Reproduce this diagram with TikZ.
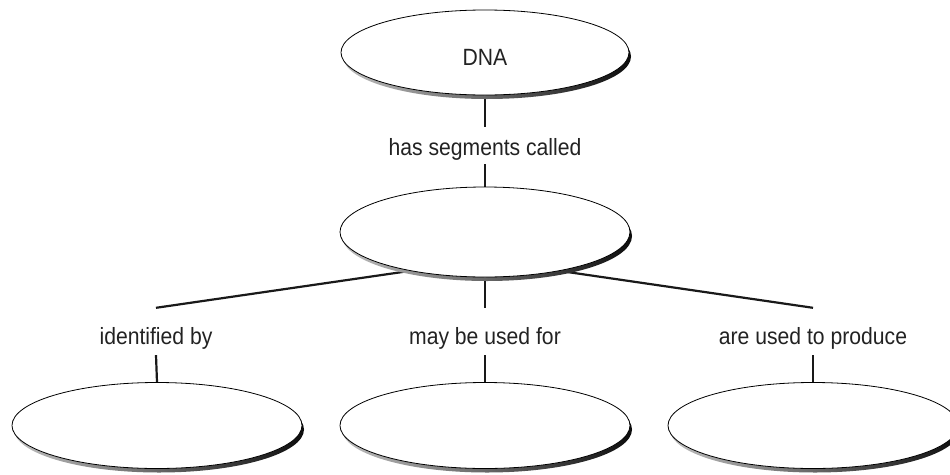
\documentclass[tikz,border=0pt]{standalone}
\usepackage{fontspec}
\setmainfont{Liberation Sans}[FakeStretch=0.9]
\usetikzlibrary{shapes.geometric,shadows}
\pgfdeclarelayer{bg}
\pgfsetlayers{bg,main}
\definecolor{ink}{HTML}{222222}
\tikzset{
  oval/.style={ellipse, draw=black, line width=0.8pt, fill=white, inner sep=0pt,
    minimum width=290pt, minimum height=86pt,
    general shadow={shadow xshift=2pt, shadow yshift=-4pt, draw=none,
      left color=black!25, right color=black!95}},
  txt/.style={font=\fontsize{23.5}{27}\selectfont, text=ink, inner ysep=0pt, inner xsep=2pt, anchor=base},
  labA/.style={txt, text height=28pt, text depth=9pt},
  labB/.style={txt, text height=36pt, text depth=11pt},
  link/.style={draw=black!90, line width=2.2pt}
}
\begin{document}
\begin{tikzpicture}[x=1pt,y=-1pt]
\useasboundingbox (0,0) rectangle (950,474);
\node[oval, minimum width=288pt, minimum height=85pt] (dna) at (485,52.5) {};
\node[txt] (dnat) at (485,65) {DNA};
\node[labA] (l1) at (485,155) {has segments called};
\node[oval, minimum height=90pt] (seg) at (485,232) {};
\coordinate (hub) at (485,260);
\node[labB] (l2) at (156,344) {identified by};
\node[labB] (l3) at (485,344) {may be used for};
\node[labB] (l4) at (813,344) {are used to produce};
\node[oval] (b1) at (157,425.5) {};
\node[oval] (b2) at (485,425.5) {};
\node[oval] (b3) at (813,425.5) {};
\begin{pgfonlayer}{bg}
\draw[link] (dna.south) -- (l1.north);
\draw[link] (l1.south) -- (seg.north);
\draw[link] (hub) -- (l2.north);
\draw[link] (seg.south) -- (l3.north);
\draw[link] (hub) -- (l4.north);
\draw[link] (l2.south) -- (b1.north);
\draw[link] (l3.south) -- (b2.north);
\draw[link] (l4.south) -- (b3.north);
\end{pgfonlayer}
\end{tikzpicture}
\end{document}
